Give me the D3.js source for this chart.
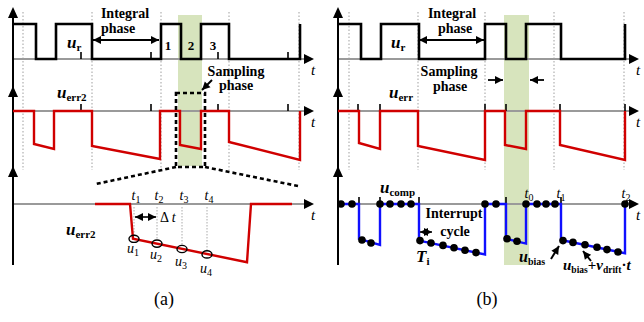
<!DOCTYPE html>
<html><head><meta charset="utf-8">
<script src="https://cdn.jsdelivr.net/npm/d3@7"></script>
<style>
body{margin:0;background:#fff}
svg{display:block}
text{font-family:"Liberation Serif","Times New Roman",serif;fill:#000}
</style>
</head><body>
<svg id="c" width="644" height="322"></svg>
<script>
// ---------------- DATA ----------------
const timeDomain = [0, 300];
// Panel (a)
const refEdgesA = [23, 43, 79, 148, 168, 188, 216, 287];
const guideTimesA = [10, 79, 148, 216, 286];
const tickTimesA = [68, 138, 205, 275];
const errA = [[0,0],[21,0],[21,-0.66],[41,-0.76],[41,0],[79,0],[79,-0.70],[147,-0.96],[147,0],[167,0],[167,-0.68],[188,-0.76],[188,0],[216,0],[216,-0.62],[287,-0.98],[287,0]];
const samplingA = [165, 189];
const zoomBoxT = [163, 192];
const zoomBoxV = [0.36, -1.12];
const zoomErrA = [[82,0],[117,0],[120,-0.58],[234,-0.97],[238,0],[279,0]];
const sampleTimesA = [121, 144, 169, 194];
const sampleValsA = [-0.58, -0.66, -0.75, -0.84];
const sampleLabelsT = ["1", "2", "3", "4"];
const phaseLabels = ["1", "2", "3"];
const phaseLabelTimes = [155, 178, 200];
// Panel (b)
const refEdgesB = [23, 43, 81, 147, 168, 188, 223, 287];
const guideTimesB = [11, 80, 147, 216, 286];
const errB = [[0,0],[21,0],[21,-0.64],[42,-0.76],[42,0],[80,0],[80,-0.70],[147,-0.98],[147,0],[167,0],[167,-0.68],[188,-0.76],[188,0],[222,0],[222,-0.68],[287,-0.98],[287,0]];
const tickErrB = [20, 42, 147, 168, 222, 287];
const compB = [[0,0],[21,0],[21,-0.58],[42,-0.68],[42,0],[81,0],[81,-0.61],[147,-0.84],[147,0],[168,0],[168,-0.58],[188,-0.66],[188,0],[223,0],[223,-0.60],[287,-0.82],[287,0]];
const tickCompB = [21, 42, 81, 168, 223];
const compDotT = [3,14,24,33,42,52,63,73,82,93,105,116,127,138,147,158,169,179,188,199,208,217,225,235,247,259,269,280,287];
const compDotV = [0,0,-0.60,-0.65,0,0,0,0,-0.61,-0.65,-0.69,-0.73,-0.77,-0.81,0,0,-0.58,-0.62,0,0,0,0,-0.61,-0.64,-0.68,-0.72,-0.76,-0.80,0];
const samplingB = [166, 191];
const markerTimesB = [190, 222, 287];
const markerLabelsB = ["0", "1", "2"];

// ---------------- SCALES ----------------
const svg = d3.select('#c');
const xA = d3.scaleLinear().domain(timeDomain).range([13, 313]);
const xB = d3.scaleLinear().domain(timeDomain).range([338, 638]);
const yTop = d3.scaleLinear().domain([0, 1]).range([59, 24]);
const yMid = d3.scaleLinear().domain([-1, 0]).range([161, 111]);
const yBot = d3.scaleLinear().domain([-1, 0]).range([264, 204]);

const GREEN = '#d7e4bd', RED = '#d00000', BLUE = '#1010ff', GRAY = '#9a9a9a';

function stepPoints(edges) {
  const pts = [[timeDomain[0], 1]];
  let lvl = 1;
  edges.forEach(e => { pts.push([e, lvl]); lvl = 1 - lvl; pts.push([e, lvl]); });
  return pts;
}

function txt(x, y, opts = {}) {
  const t = svg.append('text').attr('x', x).attr('y', y)
    .attr('font-size', opts.size || 14)
    .attr('font-weight', opts.bold === false ? 'normal' : 'bold')
    .attr('text-anchor', opts.anchor || 'start');
  if (opts.italic) t.attr('font-style', 'italic');
  return t;
}
function richLabel(x, y, parts, o = {}) {
  const size = o.size || 17, sub = o.sub || 11, bold = o.bold !== false;
  const t = svg.append('text').attr('x', x).attr('y', y).attr('font-size', size)
    .attr('font-weight', bold ? 'bold' : 'normal').attr('text-anchor', o.anchor || 'start');
  let inSub = false;
  parts.forEach(([s, k]) => {
    const sp = t.append('tspan').text(s);
    if (k === 's') {
      sp.attr('font-size', sub).attr('font-style', 'normal');
      if (!inSub) { sp.attr('dy', o.subDy || 4); inSub = true; }
    } else {
      sp.attr('font-style', k === 'm' ? 'italic' : 'normal');
      if (inSub) { sp.attr('dy', -(o.subDy || 4)); inSub = false; }
    }
  });
  return t;
}

function arrowH(xTip, y) {
  svg.append('path').attr('d', `M${xTip},${y} L${xTip-10},${y-5} L${xTip-10},${y+5} Z`).attr('fill', '#000');
}
function arrowV(x, yTip) {
  svg.append('path').attr('d', `M${x},${yTip} L${x-5},${yTip+11} L${x+5},${yTip+11} Z`).attr('fill', '#000');
}
function lineArrow(x1, y1, x2, y2, both, w) {
  svg.append('line').attr('x1', x1).attr('y1', y1).attr('x2', x2).attr('y2', y2)
    .attr('stroke', '#000').attr('stroke-width', w || 1.8);
  const head = (ax, ay, bx, by) => {
    const ang = Math.atan2(by - ay, bx - ax), L = 8, W = 4;
    const px = bx - L * Math.cos(ang), py = by - L * Math.sin(ang);
    svg.append('path').attr('d', `M${bx},${by} L${px + W*Math.sin(ang)},${py - W*Math.cos(ang)} L${px - W*Math.sin(ang)},${py + W*Math.cos(ang)} Z`).attr('fill', '#000');
  };
  head(x1, y1, x2, y2);
  if (both) head(x2, y2, x1, y1);
}

const lineGen = (x, y) => d3.line().x(d => x(d[0])).y(d => y(d[1]));

// ---------------- PANEL FRAMEWORK ----------------
function frame(x, sampling, bandBottom, guides) {
  svg.append('rect').attr('x', x(sampling[0])).attr('y', 15)
    .attr('width', x(sampling[1]) - x(sampling[0])).attr('height', bandBottom - 15).attr('fill', GREEN);
  guides.forEach(t => svg.append('line').attr('x1', x(t)).attr('x2', x(t)).attr('y1', 12).attr('y2', 170)
    .attr('stroke', '#b0b0b0').attr('stroke-width', 1.2).attr('stroke-dasharray', '1.5,2'));
  [yTop(0), yMid(0), yBot(0)].forEach(yy => {
    svg.append('line').attr('x1', x(0)).attr('x2', x(timeDomain[1]) - 6).attr('y1', yy).attr('y2', yy)
      .attr('stroke', GRAY).attr('stroke-width', 1.8);
    arrowH(x(timeDomain[1]) + 1, yy);
    richLabel(x(timeDomain[1]) - 2, yy + 16, [['t', 'm']], {size: 15, bold: false});
  });
  svg.append('line').attr('x1', x(0)).attr('x2', x(0)).attr('y1', 12).attr('y2', 265)
    .attr('stroke', '#000').attr('stroke-width', 2);
  [7, 86, 166].forEach(yt => arrowV(x(0), yt));
}
function ticks(x, y, times) {
  times.forEach(t => svg.append('line').attr('x1', x(t)).attr('x2', x(t)).attr('y1', y(0)).attr('y2', y(0) - 7)
    .attr('stroke', '#000').attr('stroke-width', 1.6));
}

// ---------------- PANEL (a) ----------------
frame(xA, samplingA, 166, guideTimesA);
ticks(xA, yTop, tickTimesA);
ticks(xA, yMid, tickTimesA);
svg.append('path').datum(stepPoints(refEdgesA)).attr('d', lineGen(xA, yTop))
  .attr('fill', 'none').attr('stroke', '#000').attr('stroke-width', 2.6);
svg.append('path').datum(errA).attr('d', lineGen(xA, yMid))
  .attr('fill', 'none').attr('stroke', RED).attr('stroke-width', 2.4);
const bx0 = xA(zoomBoxT[0]), bx1 = xA(zoomBoxT[1]), by0 = yMid(zoomBoxV[0]), by1 = yMid(zoomBoxV[1]);
svg.append('rect').attr('x', bx0).attr('y', by0).attr('width', bx1 - bx0).attr('height', by1 - by0)
  .attr('fill', 'none').attr('stroke', '#000').attr('stroke-width', 2.6).attr('stroke-dasharray', '4,3');
svg.append('line').attr('x1', bx0).attr('y1', by1).attr('x2', xA(82)).attr('y2', yBot(0.33))
  .attr('stroke', '#000').attr('stroke-width', 2.6).attr('stroke-dasharray', '4,3');
svg.append('line').attr('x1', bx1).attr('y1', by1).attr('x2', xA(285)).attr('y2', yBot(0.30))
  .attr('stroke', '#000').attr('stroke-width', 2.6).attr('stroke-dasharray', '4,3');
sampleTimesA.forEach((t, i) => {
  svg.append('line').attr('x1', xA(t)).attr('x2', xA(t)).attr('y1', 207).attr('y2', yBot(sampleValsA[i]) - 3)
    .attr('stroke', '#aaa').attr('stroke-width', 1).attr('stroke-dasharray', '1.5,1.5');
});
svg.append('path').datum(zoomErrA).attr('d', lineGen(xA, yBot))
  .attr('fill', 'none').attr('stroke', RED).attr('stroke-width', 2.4);
sampleTimesA.forEach((t, i) => {
  svg.append('ellipse').attr('cx', xA(t)).attr('cy', yBot(sampleValsA[i])).attr('rx', 5).attr('ry', 3.6)
    .attr('fill', 'none').attr('stroke', '#000').attr('stroke-width', 1.4);
  richLabel(xA(t) + 2, 200, [['t', 'm'], [sampleLabelsT[i], 's']], {size: 14, sub: 10, bold: false, anchor: 'middle', subDy: 3});
  richLabel(xA(t) - 1, yBot(sampleValsA[i]) + 14 + i * 1.5, [['u', 'm'], [sampleLabelsT[i], 's']], {size: 14, sub: 10, bold: false, anchor: 'middle', subDy: 3});
});
lineArrow(xA(122), 217, xA(143), 217, true, 1.6);
const dt = svg.append('text').attr('x', xA(147)).attr('y', 222).attr('font-size', 14);
dt.append('tspan').text('Δ ');
dt.append('tspan').attr('font-style', 'italic').text('t');

txt(125, 18, {anchor: 'middle'}).text('Integral');
txt(118, 33, {anchor: 'middle'}).text('phase');
lineArrow(xA(80), 40, xA(146), 40, true);
richLabel(67, 48, [['u', 'm'], ['r', 's']], {size: 17, sub: 11, subDy: 3});
phaseLabels.forEach((s, i) => txt(xA(phaseLabelTimes[i]), 50, {size: 13, anchor: 'middle'}).text(s));
txt(236, 76, {anchor: 'middle'}).text('Sampling');
txt(236, 90, {anchor: 'middle'}).text('phase');
lineArrow(212, 80, 202, 90, false, 2);
richLabel(57, 98, [['u', 'm'], ['err2', 's']], {size: 17, sub: 11, subDy: 3});
richLabel(66, 235, [['u', 'm'], ['err2', 's']], {size: 17, sub: 11, subDy: 3});

// ---------------- PANEL (b) ----------------
frame(xB, samplingB, 265, guideTimesB);
ticks(xB, yMid, tickErrB);
ticks(xB, yBot, tickCompB);
svg.append('path').datum(stepPoints(refEdgesB)).attr('d', lineGen(xB, yTop))
  .attr('fill', 'none').attr('stroke', '#000').attr('stroke-width', 2.6);
svg.append('path').datum(errB).attr('d', lineGen(xB, yMid))
  .attr('fill', 'none').attr('stroke', RED).attr('stroke-width', 2.4);
svg.append('path').datum(compB).attr('d', lineGen(xB, yBot))
  .attr('fill', 'none').attr('stroke', BLUE).attr('stroke-width', 2.4);
svg.selectAll('circle.dot').data(compDotT).enter().append('circle')
  .attr('cx', d => xB(d)).attr('cy', (d, i) => yBot(compDotV[i])).attr('r', 3.8).attr('fill', '#000');

txt(452, 18, {anchor: 'middle'}).text('Integral');
txt(455, 33, {anchor: 'middle'}).text('phase');
lineArrow(xB(81), 40, xB(146), 40, true);
richLabel(391, 48, [['u', 'm'], ['r', 's']], {size: 17, sub: 11, subDy: 3});
txt(449, 76, {anchor: 'middle'}).text('Sampling');
txt(450, 91, {anchor: 'middle'}).text('phase');
lineArrow(488, 80, xB(samplingB[0]) - 1, 80, false, 1.8);
lineArrow(544, 80, xB(samplingB[1]) + 1, 80, false, 1.8);
richLabel(389, 98, [['u', 'm'], ['err', 's']], {size: 17, sub: 11, subDy: 3});
richLabel(380, 193, [['u', 'm'], ['comp', 's']], {size: 17, sub: 11, subDy: 3});
markerTimesB.forEach((t, i) => richLabel(xB(t) + 1, 198, [['t', 'm'], [markerLabelsB[i], 's']], {size: 14, sub: 10, bold: false, anchor: 'middle', subDy: 3}));
txt(454, 218, {anchor: 'middle'}).text('Interrupt');
txt(455, 236, {anchor: 'middle'}).text('cycle');
lineArrow(xB(82), 232, xB(94), 232, true, 1.5);
richLabel(416, 262, [['T', 'm'], ['i', 's']], {size: 17, sub: 11, subDy: 3});
richLabel(519, 262, [['u', 'm'], ['bias', 's']], {size: 16, sub: 10, subDy: 3});
lineArrow(551, 259, xB(223) - 2, 246, false, 2);
richLabel(563, 270, [['u', 'm'], ['bias', 's'], ['+', 'n'], ['v', 'm'], ['drift', 's'], ['·', 'n'], ['t', 'm']], {size: 15, sub: 9.5, subDy: 3});
lineArrow(591, 261, xB(247) - 2, 251, false, 2);

svg.append('text').attr('x', 164).attr('y', 305).attr('text-anchor', 'middle').attr('font-size', 18).text('(a)');
svg.append('text').attr('x', 487).attr('y', 305).attr('text-anchor', 'middle').attr('font-size', 18).text('(b)');
</script>
</body></html>
